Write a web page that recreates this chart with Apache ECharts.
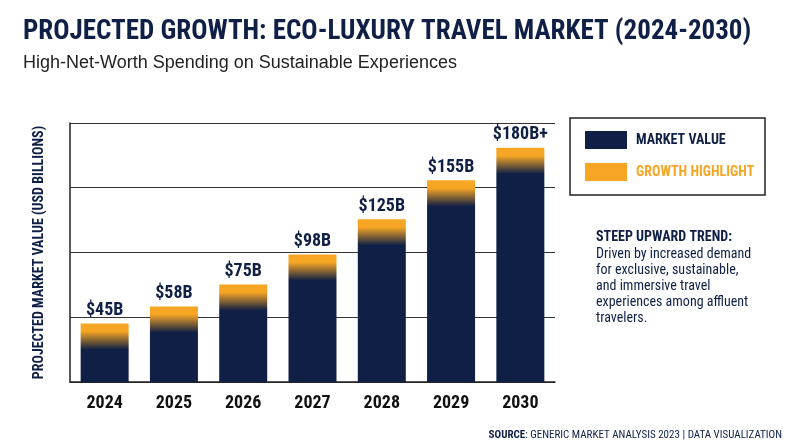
<!DOCTYPE html>
<html><head><meta charset="utf-8">
<script src="https://cdn.jsdelivr.net/npm/echarts@6/dist/echarts.min.js"></script>
<style>html,body{margin:0;padding:0;background:#fff}#chart{width:800px;height:447px}</style>
</head><body><div id="chart"></div>
<script>
var years = ['2024', '2025', '2026', '2027', '2028', '2029', '2030'];
var marketValue = [45, 58, 75, 98, 125, 155, 180];
var valueLabels = ['$45B', '$58B', '$75B', '$98B', '$125B', '$155B', '$180B+'];

var NAVY = '#0f1f45', ORANGE = '#f7a623';
var FONT = '"Liberation Sans Narrow", "Roboto Condensed", "Liberation Sans", sans-serif';

/*柱子顶部橙色渐变*/
function barColor(v){
	var h = v / 200 * 259;
	var o = Math.min(0.9, 26 / h);
	return new echarts.graphic.LinearGradient(0, 0, 0, 1, [
		{ offset: 0, color: ORANGE },
		{ offset: o * 0.3, color: ORANGE },
		{ offset: o, color: NAVY },
		{ offset: 1, color: NAVY }
	]);
}

var chart = echarts.init(document.getElementById('chart'));
chart.setOption({
	backgroundColor: '#fff',
	textStyle: { fontFamily: FONT },
	title: {
		text: 'PROJECTED GROWTH: ECO-LUXURY TRAVEL MARKET (2024-2030)',
		subtext: 'High-Net-Worth Spending on Sustainable Experiences',
		left: 18, top: 14, itemGap: 8,
		textStyle: { fontFamily: FONT, fontSize: 27, fontWeight: 'bold', color: NAVY },
		subtextStyle: { fontFamily: '"Liberation Sans", sans-serif', fontSize: 18, color: '#222' }
	},
	grid: { left: 70, right: 245, top: 123, bottom: 65 },
	xAxis: {
		type: 'category', data: years,
		axisLine: { lineStyle: { color: '#222', width: 1.5 } },
		axisTick: { show: false },
		axisLabel: { fontFamily: FONT, fontSize: 18, fontWeight: 'bold', color: '#111', margin: 12 }
	},
	yAxis: {
		type: 'value', min: 0, max: 199, interval: 50,
		name: 'PROJECTED MARKET VALUE (USD BILLIONS)',
		nameLocation: 'middle', nameGap: 24,
		nameTextStyle: { fontFamily: FONT, fontSize: 14, fontWeight: 'bold', color: NAVY },
		axisLine: { show: true, lineStyle: { color: '#222', width: 1.5 } },
		axisLabel: { show: false },
		splitLine: { lineStyle: { color: '#333', width: 1 } }
	},
	series: [{
		type: 'bar', barWidth: 48,
		data: marketValue.map(function(v){ return { value: v, itemStyle: { color: barColor(v) } }; }),
		label: {
			show: true, position: 'top', distance: 4,
			formatter: function(p){ return valueLabels[p.dataIndex]; },
			fontFamily: FONT, fontSize: 18, fontWeight: 'bold', color: NAVY
		}
	}],
	graphic: [
		{ type: 'rect', shape: { x: 570, y: 118, width: 195, height: 77 }, style: { fill: 'none', stroke: '#222', lineWidth: 1.5 } },
		{ type: 'rect', shape: { x: 585, y: 131, width: 42, height: 18 }, style: { fill: NAVY } },
		{ type: 'text', x: 636, y: 133, style: { text: 'MARKET VALUE', font: 'bold 14px ' + FONT, fill: NAVY } },
		{ type: 'rect', shape: { x: 585, y: 163, width: 42, height: 18 }, style: { fill: ORANGE } },
		{ type: 'text', x: 636, y: 165, style: { text: 'GROWTH HIGHLIGHT', font: 'bold 14px ' + FONT, fill: ORANGE } },
		{ type: 'text', x: 596, y: 230, style: { text: 'STEEP UPWARD TREND:', font: 'bold 14px ' + FONT, fill: NAVY } },
		{ type: 'text', x: 596, y: 246, style: { text: 'Driven by increased demand\nfor exclusive, sustainable,\nand immersive travel\nexperiences among affluent\ntravelers.', font: '14px ' + FONT, fill: NAVY, lineHeight: 16 } },
		{ type: 'text', right: 18, top: 430, style: { rich: { b: { font: 'bold 11px ' + FONT, fill: NAVY }, n: { font: '11px ' + FONT, fill: NAVY } }, text: '{b|SOURCE}{n|: GENERIC MARKET ANALYSIS 2023 | DATA VISUALIZATION}' } }
	]
});
</script>
</body></html>
